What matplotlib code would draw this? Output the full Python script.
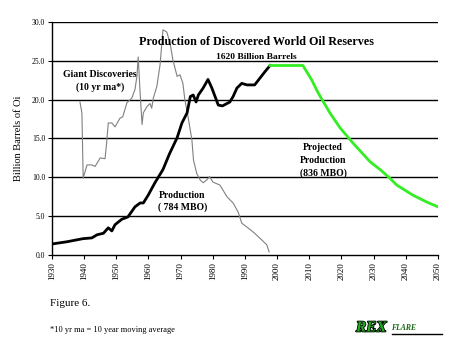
import matplotlib.pyplot as plt
import matplotlib.patheffects as pe
from matplotlib.lines import Line2D

plt.rcParams['font.family'] = ['Liberation Serif', 'DejaVu Serif']

# Giant discoveries, 10 yr moving average
disc_year = [1938.7, 1939.3, 1939.7, 1940.9, 1942.4, 1943.4, 1945, 1946.5, 1947, 1947.5,
             1948.6, 1949.6, 1951.1, 1952, 1953.3, 1954.8, 1955.8, 1956.4, 1956.8, 1957.4,
             1958, 1958.4, 1959.5, 1960.5, 1961, 1961.5, 1962.6, 1963.6, 1964.5, 1965.7,
             1966.7, 1967.6, 1968.9, 1969.8, 1970.7, 1971.3, 1972.3, 1973.5, 1974, 1975,
             1976, 1977, 1978.2, 1979, 1980, 1982.2, 1984.4, 1986.3, 1987.9, 1989,
             1990.9, 1993, 1995.3, 1996.8, 1997.5]
disc_val = [19.7, 18.3, 9.9, 11.6, 11.6, 11.4, 12.5, 12.4, 14.5, 17.0,
            17.0, 16.5, 17.6, 17.8, 19.6, 20.2, 21.3, 23.0, 25.5, 20.9,
            16.8, 18.3, 19.1, 19.5, 18.9, 20.2, 21.7, 24.5, 29.0, 28.7,
            27.3, 25.1, 23.0, 23.2, 22.1, 20.0, 17.8, 14.8, 12.2, 10.5,
            9.7, 9.3, 9.7, 10.1, 9.4, 9.0, 7.5, 6.7, 5.5, 4.1,
            3.5, 2.8, 1.9, 1.3, 0.4]

# Historical production
prod_year = [1930, 1934.6, 1939.6, 1942.4, 1944, 1946, 1947.5, 1948.6, 1949.6, 1951.7,
             1953.6, 1955.8, 1957.4, 1958.4, 1959.9, 1962, 1964.5, 1966.5, 1968.9, 1970.4,
             1972, 1973, 1973.9, 1974.8, 1975.5, 1977, 1978.5, 1979.7, 1981.7, 1983,
             1985.3, 1986.3, 1987.5, 1989, 1990.6, 1993, 1994.7, 1996.2, 1997.8]
prod_val = [1.42, 1.7, 2.1, 2.2, 2.6, 2.8, 3.5, 3.1, 3.9, 4.6,
            4.9, 6.2, 6.7, 6.7, 7.7, 9.3, 11.0, 13.0, 15.1, 17.0,
            18.3, 20.4, 20.6, 19.7, 20.6, 21.5, 22.6, 21.5, 19.3, 19.2,
            19.7, 20.4, 21.5, 22.1, 21.9, 21.9, 22.8, 23.6, 24.4]

# Projected production
proj_year = [1997.8, 2008, 2010.8, 2012.7, 2016.4, 2019.5, 2023.6, 2028.9, 2032, 2035,
             2037.2, 2042.2, 2046.6, 2050]
proj_val = [24.4, 24.4, 22.5, 20.9, 18.3, 16.4, 14.4, 12.0, 11.0, 9.9,
            9.0, 7.7, 6.8, 6.2]

x_ticks = list(range(1930, 2051, 10))
y_ticks = [0, 5, 10, 15, 20, 25, 30]

fig = plt.figure(figsize=(4.7, 3.52), dpi=100)
ax = fig.add_axes([0.1106, 0.2756, 0.8213, 0.6619])

for y in y_ticks[1:]:
    ax.axhline(y, color='black', lw=1.0, zorder=1)

ax.plot(disc_year, disc_val, color='#808080', lw=0.8, zorder=2)
ax.plot(prod_year, prod_val, color='black', lw=2.0, zorder=3)
ax.plot(proj_year, proj_val, color='#33ee22', lw=2.0, zorder=3)

ax.set_xlim(1930, 2050)
ax.set_ylim(0, 30)
ax.set_xticks(x_ticks)
ax.set_xticklabels([str(t) for t in x_ticks], rotation=90, fontsize=6.5)
ax.set_yticks(y_ticks)
ax.set_yticklabels([f'{t:.1f}' for t in y_ticks], fontsize=5.5)
ax.tick_params(direction='out', length=3, width=0.8, pad=2)
for s in ['top', 'right']:
    ax.spines[s].set_visible(False)
ax.spines['left'].set_linewidth(1.0)
ax.spines['bottom'].set_linewidth(1.0)

ax.set_ylabel('Billion Barrels of Oi', fontsize=7.5, labelpad=6)

ax.text(1993.6, 27.4, 'Production of Discovered World Oil Reserves', ha='center', va='center',
        fontsize=8.7, fontweight='bold')
ax.text(1993.6, 25.5, '1620 Billion Barrels', ha='center', va='center', fontsize=6.8, fontweight='bold')
ax.text(1945, 23.2, 'Giant Discoveries', ha='center', va='center', fontsize=7, fontweight='bold')
ax.text(1945, 21.6, '(10 yr ma*)', ha='center', va='center', fontsize=7, fontweight='bold')
ax.text(1970.5, 7.6, 'Production', ha='center', va='center', fontsize=7, fontweight='bold')
ax.text(1970.5, 6.1, '( 784 MBO)', ha='center', va='center', fontsize=7, fontweight='bold')
ax.text(2014.3, 13.9, 'Projected', ha='center', va='center', fontsize=7, fontweight='bold')
ax.text(2014.3, 12.2, 'Production', ha='center', va='center', fontsize=7, fontweight='bold')
ax.text(2014.3, 10.5, '(836 MBO)', ha='center', va='center', fontsize=7, fontweight='bold')

fig.text(50 / 470, 1 - 303 / 352, 'Figure 6.', fontsize=8, va='center')
fig.text(50 / 470, 1 - 330 / 352, '*10 yr ma = 10 year moving average', fontsize=6, va='center')

# logo
fig.text(356 / 470, 1 - 328 / 352, 'REX', fontsize=11, fontweight='bold', style='italic',
         color='#22aa22', va='center',
         path_effects=[pe.withStroke(linewidth=1.2, foreground='black')])
fig.text(391 / 470, 1 - 328 / 352, 'FLARE', fontsize=5.5, fontweight='bold', style='italic',
         color='#116611', va='center')
fig.add_artist(Line2D([392 / 470, 442 / 470], [1 - 334 / 352, 1 - 334 / 352], color='black', lw=1))

fig.savefig('out.png', dpi=100)
